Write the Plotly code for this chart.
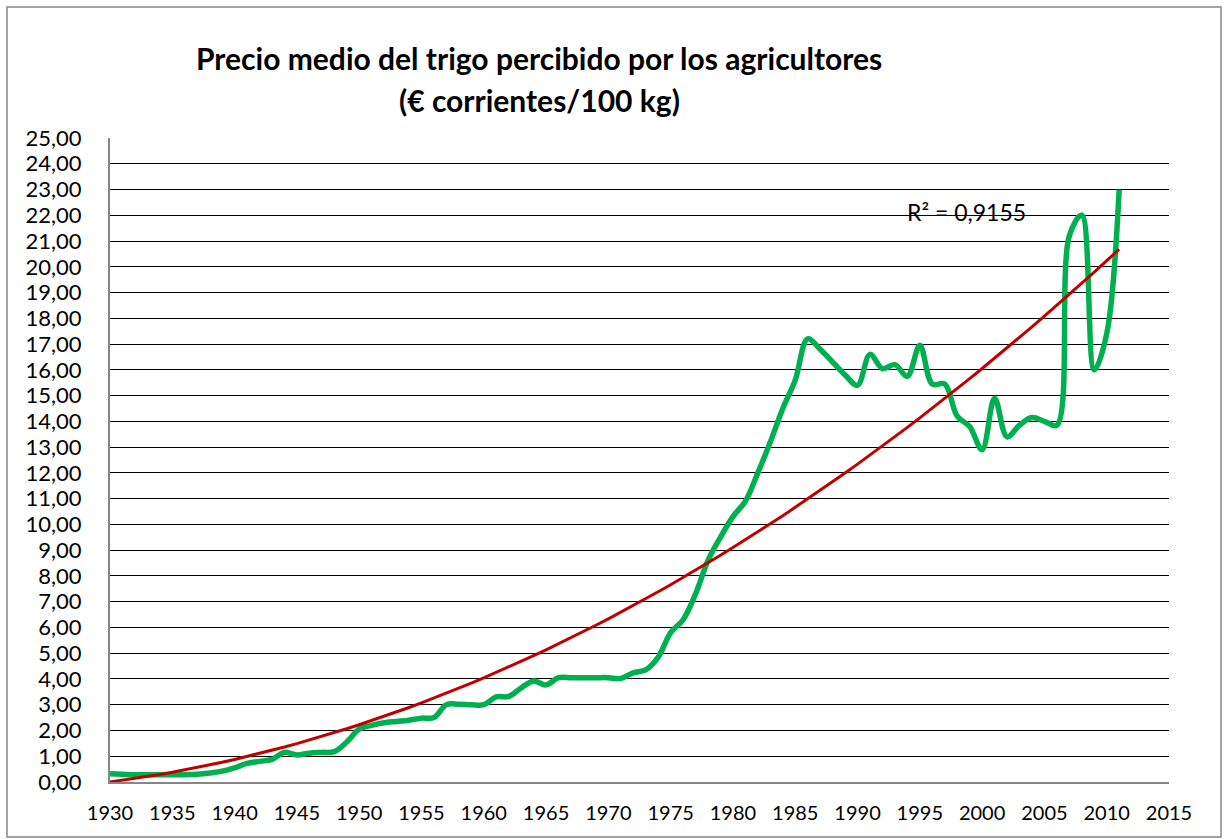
import numpy as np
import plotly.graph_objects as go

years = list(range(1930, 2012))
prices = [
    0.32, 0.30, 0.28, 0.28, 0.28, 0.28, 0.28, 0.30, 0.35, 0.42,  # 1930-1939
    0.55, 0.72, 0.80, 0.88, 1.15, 1.05, 1.12, 1.15, 1.18, 1.55,  # 1940-1949
    2.05, 2.20, 2.30, 2.35, 2.40, 2.48, 2.50, 3.00, 3.02, 3.00,  # 1950-1959
    3.00, 3.30, 3.32, 3.65, 3.92, 3.77, 4.05, 4.05, 4.05, 4.05,  # 1960-1969
    4.05, 4.02, 4.24, 4.35, 4.85, 5.80, 6.30, 7.30, 8.60, 9.50,  # 1970-1979
    10.30, 10.90, 12.00, 13.20, 14.50, 15.60, 17.20, 16.80, 16.30, 15.80,  # 1980-1989
    15.40, 16.60, 16.05, 16.20, 15.75, 16.95, 15.45, 15.45, 14.20, 13.80,  # 1990-1999
    12.90, 14.90, 13.40, 13.85, 14.15, 14.00, 13.85, 21.20, 22.00, 16.00,  # 2000-2009
    17.40, 23.00,  # 2010-2011
]

title_line1 = "Precio medio del trigo percibido por los agricultores"
title_line2 = "(€ corrientes/100 kg)"
r2_label = "R² = 0,9155"
x_ticks = list(range(1930, 2016, 5))
y_ticks = list(range(0, 26))

# order-2 polynomial trendline fitted to the data, intercept fixed at 0
t = np.array(years, dtype=float) - years[0]
A = np.column_stack([t, t ** 2])
coef, *_ = np.linalg.lstsq(A, np.array(prices), rcond=None)
trend = A @ coef

FONT = "Lato"
W, H = 1224, 839
L, R, T, B = 110, 55, 138, 57
PW, PH = W - L - R, H - T - B


def px(x):
    return (x - L) / PW


def py(y):
    return (H - B - y) / PH


fig = go.Figure()
fig.add_trace(go.Scatter(
    x=years, y=prices, mode="lines",
    line=dict(color="#00B050", width=5.5, shape="spline", smoothing=1.0),
    showlegend=False, hoverinfo="skip",
))
fig.add_trace(go.Scatter(
    x=years, y=trend, mode="lines",
    line=dict(color="#C00000", width=3),
    showlegend=False, hoverinfo="skip",
))

fig.update_layout(
    width=W, height=H,
    margin=dict(l=L, r=R, t=T, b=B),
    paper_bgcolor="white", plot_bgcolor="white",
    separators=",.",
    font=dict(family=FONT, color="black"),
    xaxis=dict(
        range=[1930, 2015], tickvals=x_ticks, ticktext=[str(v) for v in x_ticks],
        showgrid=False, zeroline=False,
        showline=True, linecolor="#868686", linewidth=2,
        ticks="outside", ticklen=12, tickcolor="rgba(0,0,0,0)",
        tickfont=dict(size=20, family=FONT),
    ),
    yaxis=dict(
        range=[0, 25], tickvals=y_ticks, tickformat=".2f",
        showgrid=True, gridcolor="black", gridwidth=1.2,
        zeroline=False,
        showline=True, linecolor="#868686", linewidth=2,
        ticks="outside", ticklen=22, tickcolor="rgba(0,0,0,0)",
        tickfont=dict(size=22, family=FONT),
    ),
    shapes=[
        dict(type="rect", xref="paper", yref="paper",
             x0=px(7), x1=px(1221), y0=py(837), y1=py(7),
             line=dict(color="#868686", width=1.5), fillcolor="rgba(0,0,0,0)",
             layer="below"),
    ],
    annotations=[
        dict(text="<b>" + title_line1 + "</b>", xref="paper", yref="paper",
             x=px(539), y=py(58), showarrow=False,
             xanchor="center", yanchor="middle",
             font=dict(size=30, family=FONT, color="black")),
        dict(text="<b>" + title_line2 + "</b>", xref="paper", yref="paper",
             x=px(539), y=py(100), showarrow=False,
             xanchor="center", yanchor="middle",
             font=dict(size=30, family=FONT, color="black")),
        dict(text=r2_label, xref="paper", yref="paper",
             x=px(966), y=py(212), showarrow=False,
             xanchor="center", yanchor="middle",
             font=dict(size=23, family=FONT, color="black")),
    ],
)

fig.write_html(
    "out.html",
    config={"displayModeBar": False},
    post_script="document.body.style.margin='0';document.body.style.padding='0';",
)
